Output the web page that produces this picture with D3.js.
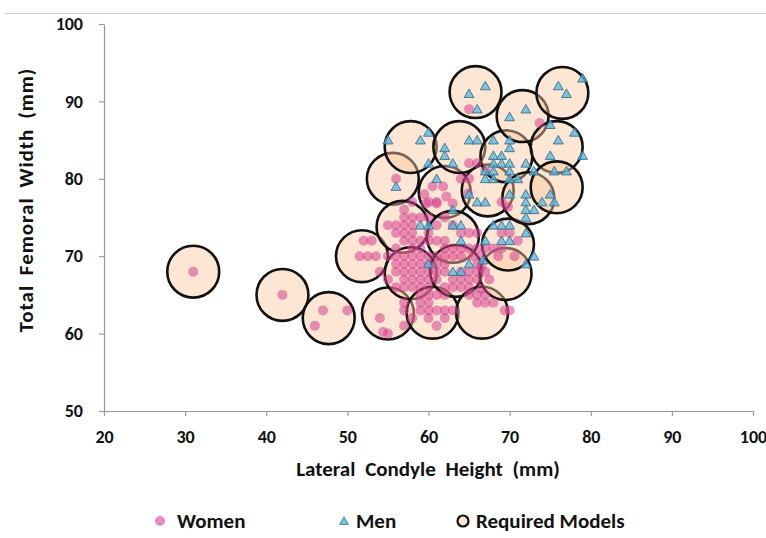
<!DOCTYPE html>
<html>
<head>
<meta charset="utf-8">
<script src="https://cdn.jsdelivr.net/npm/d3@7"></script>
<style>
  body { margin: 0; background: #fff; }
  text { font-family: Carlito, Lato, "Open Sans", sans-serif; font-weight: bold; fill: #111; }
</style>
</head>
<body>
<div id="container"></div>
<script>
const w = 766,
    h = 538;

// tick labels
const xTicks = [20, 30, 40, 50, 60, 70, 80, 90, 100];
const yTicks = [50, 60, 70, 80, 90, 100];

// required models (lateral condyle height, total femoral width)
const models = [
    [31, 68], [42, 65], [47.7, 62], [51.8, 70], [55, 62.6], [55.6, 80], [56.8, 73.8],
    [57.8, 84.1], [57.8, 67.8], [60.5, 62.7], [62, 78.3], [63, 72.5], [63.8, 84.1],
    [63.4, 68.1], [65.8, 91.2], [66.6, 62.7], [67.3, 78.5], [69.6, 82.9], [69.5, 67.7],
    [69.8, 71.5], [71.6, 88.1], [72.3, 77.5], [75.8, 84.1], [75.8, 78.9], [76.5, 91.1]
];

// women
const women = [
    [31, 68], [42, 65], [46, 61], [47, 63], [50, 63],
    [60, 77], [61, 77], [57, 75], [58, 75], [59, 75], [60, 75],
    [55, 74], [56, 74], [57, 74], [58, 74], [56, 73], [57, 73], [58, 73], [60, 73],
    [52, 72], [53, 72], [57, 72], [58, 72], [59, 72], [60, 72], [61, 72], [62, 72],
    [56, 71], [58, 71], [59, 71], [62, 71], [63, 71], [64, 71], [65, 71], [66, 71], [67, 71], [68, 71], [69, 71],
    [51.5, 70], [52.5, 70], [53.5, 70], [55, 70], [56, 70], [57, 70], [58, 70], [59, 70], [60, 70], [61, 70],
    [65.5, 70], [66.5, 70], [68.6, 70], [70.6, 70],
    [56, 69], [57, 69], [58, 69], [59, 69], [60, 69], [61, 69], [62, 69], [66, 69], [66.5, 68.6],
    [54, 68], [56, 68], [57, 68], [58, 68], [59, 68], [60, 68], [61, 68], [62, 68],
    [64, 68], [65, 68], [66, 68], [67, 68],
    [55, 67], [57, 67], [58, 67], [59, 67], [60, 67], [61, 67], [63, 67], [64, 67], [65, 67], [66, 67], [67.5, 67],
    [56, 66], [57, 66], [58, 66], [59, 66], [60, 66], [62, 66], [63, 66], [64, 66], [65, 66], [66.5, 65.8],
    [59, 65], [60, 65], [61, 65], [62, 65], [65, 65], [66, 65], [67, 65],
    [57, 64], [59, 64], [60, 64], [66, 64], [67, 64], [68, 64],
    [57, 63], [59, 63], [60, 63], [61, 63], [62, 63], [63, 63], [69.4, 63], [70, 63],
    [54, 62], [58, 62], [60, 62], [62, 62], [57, 61], [61, 61], [55, 60], [54.4, 60.2],
    [59.5, 78], [60.5, 79], [61.8, 79], [59.7, 76.8], [61, 76.8], [62.2, 77.7], [63, 76.8], [64.9, 78.1],
    [64, 80], [65, 80], [65, 82], [66, 82], [67, 81], [56, 80], [65, 89], [73.7, 87.2],
    [69, 77], [69.8, 76.4], [70, 73], [71, 72], [69, 73], [62, 75], [63, 74], [61, 74],
    [64, 73], [65, 73], [66, 73], [63, 70], [64, 70], [62, 70], [57, 76], [58, 77]
];

// men
const men = [
    [67, 92], [65, 91], [66, 89], [79, 93], [76, 92], [77, 91], [72, 89], [70, 88],
    [55, 85], [59, 85], [60, 86], [65, 85], [66, 85], [62, 84], [62, 83], [68, 85], [70, 85], [70, 84],
    [75, 87], [76, 85], [78, 86], [79, 83], [75, 83], [60, 82], [63, 82], [61, 80], [56, 79],
    [68, 83], [69, 83], [68, 82], [69, 82], [70, 82], [72, 82], [77, 81], [75.5, 81], [73, 81],
    [67, 81], [68, 81], [70, 81], [67, 80], [68, 80], [70, 80], [71, 80],
    [65, 78], [66, 77], [67, 77], [70, 78], [72, 78], [72, 77], [75, 78], [74, 77], [73, 76],
    [72, 76], [72, 75], [75.5, 77], [68, 74], [69, 74], [70, 74], [67, 72], [69, 72], [70, 72], [72, 73],
    [73, 70], [72, 69], [66.7, 69.5], [59, 74], [60, 74], [63, 76], [63, 74], [64, 74], [64, 72],
    [60, 69], [63, 68], [65, 69], [64, 68]
];

const legendItems = ["Women", "Men", "Required Models"];

var svg = d3.select("div#container")
    .append("svg")
    .attr("width", w)
    .attr("height", h);

var x = d3.scaleLinear().domain([20, 100]).range([104, 753]);
var y = d3.scaleLinear().domain([50, 100]).range([411, 24]);
var modelR = x(23.2) - x(20);

// thin rule on top
svg.append("line")
    .attr("x1", 5).attr("x2", w)
    .attr("y1", 13.5).attr("y2", 13.5)
    .style("stroke", "#cfcfcf");

// axes
var xAxis = svg.append("g")
    .attr("transform", "translate(0," + y(50) + ")")
    .call(d3.axisBottom(x).tickValues(xTicks).tickSize(5).tickSizeOuter(0));
var yAxis = svg.append("g")
    .attr("transform", "translate(" + x(20) + ",0)")
    .call(d3.axisLeft(y).tickValues(yTicks).tickSize(5).tickSizeOuter(0));
[xAxis, yAxis].forEach(function (a) {
    a.selectAll("path, line").style("stroke", "#9a9a9a").style("stroke-width", 1.2);
    a.selectAll("text").style("font-size", "18px").style("fill", "#111");
});
xAxis.selectAll("text").attr("y", 19);
yAxis.selectAll("text").attr("x", -21);

// axis titles
svg.append("text")
    .attr("x", 428)
    .attr("y", 476)
    .attr("text-anchor", "middle")
    .style("font-size", "21px")
    .style("word-spacing", "5px")
    .text("Lateral Condyle Height (mm)");
svg.append("text")
    .attr("transform", "translate(33," + 200 + ") rotate(-90)")
    .attr("text-anchor", "middle")
    .style("font-size", "21px")
    .style("letter-spacing", "1px")
    .style("word-spacing", "4px")
    .text("Total Femoral Width (mm)");

// required models
svg.append("g")
    .selectAll("circle")
    .data(models)
    .enter()
    .append("circle")
    .attr("cx", d => x(d[0]))
    .attr("cy", d => y(d[1]))
    .attr("r", modelR)
    .style("fill", "rgba(250,200,158,0.45)")
    .style("stroke", "#111")
    .style("stroke-width", 2.6);

// women
svg.append("g")
    .selectAll("circle")
    .data(women)
    .enter()
    .append("circle")
    .attr("cx", d => x(d[0]))
    .attr("cy", d => y(d[1]))
    .attr("r", 5)
    .style("fill", "#d6408f")
    .style("opacity", 0.55);

// men
var tri = d3.symbol().type(d3.symbolTriangle).size(42);
svg.append("g")
    .selectAll("path")
    .data(men)
    .enter()
    .append("path")
    .attr("d", tri)
    .attr("transform", d => "translate(" + x(d[0]) + "," + (y(d[1]) + 1) + ")")
    .style("fill", "rgba(90,185,222,0.78)")
    .style("stroke", "#3b6f8c")
    .style("stroke-width", 0.9);

// legend
var legend = svg.append("g").attr("transform", "translate(0,521)");
legend.append("circle")
    .attr("cx", 160).attr("cy", 0).attr("r", 5)
    .style("fill", "#e58fbd");
legend.append("path")
    .attr("d", d3.symbol().type(d3.symbolTriangle).size(34))
    .attr("transform", "translate(344,1)")
    .style("fill", "#6cc3e0")
    .style("stroke", "#3b6f8c")
    .style("stroke-width", 0.8);
legend.append("circle")
    .attr("cx", 463).attr("cy", 0).attr("r", 5.5)
    .style("fill", "#fde6d4")
    .style("stroke", "#111")
    .style("stroke-width", 2.2);
legend.selectAll("text.leg")
    .data(legendItems)
    .enter()
    .append("text")
    .attr("class", "leg")
    .attr("x", (d, i) => [177, 356, 476][i])
    .attr("y", 7)
    .style("font-size", "21px")
    .text(d => d);
</script>
</body>
</html>
